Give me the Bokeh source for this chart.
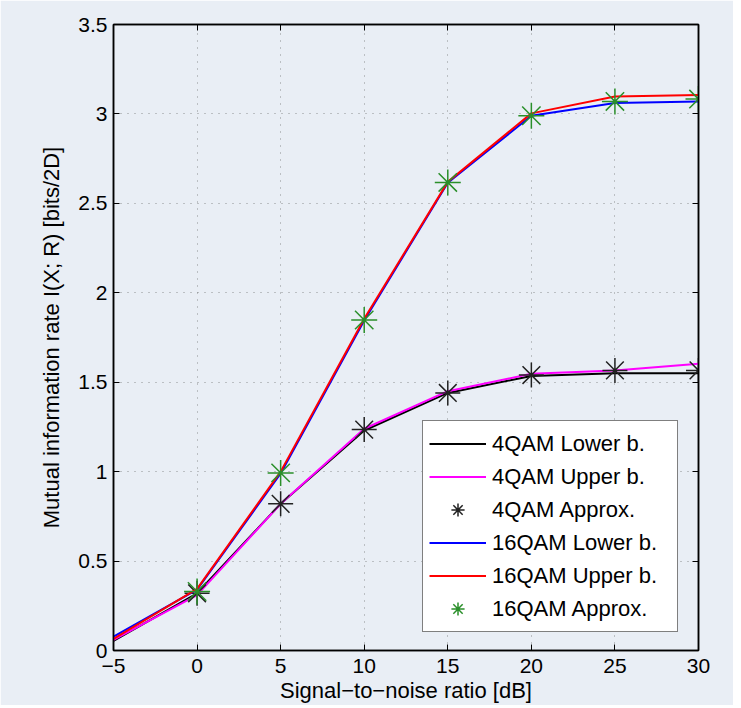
from bokeh.plotting import figure
from bokeh.models import Range1d, FixedTicker, LinearAxis, Legend, LegendItem
from bokeh.embed import file_html
from bokeh.resources import INLINE

# ---- data ----
snr = [-5, 0, 5, 10, 15, 20, 25, 30]
snr_approx = [0, 5, 10, 15, 20, 25, 30]
qam4_lower = [0.054, 0.32, 0.82, 1.23, 1.44, 1.535, 1.55, 1.55]
qam4_upper = [0.06, 0.31, 0.82, 1.24, 1.45, 1.547, 1.566, 1.603]
qam4_approx = [0.32, 0.82, 1.235, 1.44, 1.54, 1.566, 1.566]
qam16_lower = [0.078, 0.34, 0.99, 1.845, 2.615, 2.99, 3.061, 3.07]
qam16_upper = [0.065, 0.345, 1.0, 1.855, 2.62, 3.003, 3.097, 3.106]
qam16_approx = [0.33, 0.993, 1.848, 2.617, 2.99, 3.07, 3.083]

x_ticks = [-5, 0, 5, 10, 15, 20, 25, 30]
x_tick_labels = ["\u22125", "0", "5", "10", "15", "20", "25", "30"]
y_ticks = [0, 0.5, 1, 1.5, 2, 2.5, 3, 3.5]
y_tick_labels = ["0", "0.5", "1", "1.5", "2", "2.5", "3", "3.5"]

series_names = ["4QAM Lower b.", "4QAM Upper b.", "4QAM Approx.",
                "16QAM Lower b.", "16QAM Upper b.", "16QAM Approx."]

BG = "#E9EEF5"
FONT = "Liberation Sans"

p = figure(width=733, height=705,
           x_range=Range1d(-5, 30), y_range=Range1d(0, 3.5),
           output_backend="svg", toolbar_location=None,
           min_border_left=113, min_border_right=35,
           min_border_top=24, min_border_bottom=51,
           background_fill_color=BG, border_fill_color=BG)

p.xaxis.ticker = FixedTicker(ticks=x_ticks)
p.yaxis.ticker = FixedTicker(ticks=y_ticks)
p.xaxis.major_label_overrides = dict(zip(x_ticks, x_tick_labels))
p.yaxis.major_label_overrides = dict(zip(y_ticks, y_tick_labels))
p.xaxis.axis_label = "Signal\u2212to\u2212noise ratio [dB]"
p.yaxis.axis_label = "Mutual information rate I(X; R) [bits/2D]"

for ax in p.xaxis + p.yaxis:
    ax.axis_line_width = 1.5
    ax.axis_line_color = "black"
    ax.major_tick_in = 6
    ax.major_tick_out = 0
    ax.major_tick_line_color = "black"
    ax.minor_tick_line_color = None
    ax.major_label_text_font = FONT
    ax.major_label_text_font_size = "21px"
    ax.major_label_text_color = "black"
    ax.axis_label_text_font = FONT
    ax.axis_label_text_font_size = "22px"
    ax.axis_label_text_font_style = "normal"
    ax.axis_label_text_color = "black"

p.xaxis.major_label_standoff = 8
p.xaxis.axis_label_standoff = 2
p.yaxis.major_label_standoff = 6
p.yaxis.axis_label_standoff = 11

# box axes (inward ticks only, empty labels)
for loc, tk in (("right", y_ticks), ("above", x_ticks)):
    ax = LinearAxis(ticker=FixedTicker(ticks=tk),
                    major_label_overrides={t: "" for t in tk},
                    major_label_standoff=0,
                    major_tick_in=6, major_tick_out=0,
                    minor_tick_line_color=None,
                    axis_line_width=1.5, axis_line_color="black",
                    major_tick_line_color="black")
    p.add_layout(ax, loc)

p.outline_line_color = "black"
p.outline_line_width = 1.5

for g in (p.xgrid, p.ygrid):
    g.grid_line_color = "#666666"
    g.grid_line_alpha = 0.7
    g.grid_line_dash = "1 6"
    g.grid_line_width = 1

r1 = p.line(snr, qam4_lower, line_color="black", line_width=2)
r2 = p.line(snr, qam4_upper, line_color="#FF00FF", line_width=2)
r3 = p.scatter(snr_approx, qam4_approx, marker="asterisk", size=25,
               line_color="#222222", line_width=1.5)
r4 = p.line(snr, qam16_lower, line_color="#0000FF", line_width=2)
r5 = p.line(snr, qam16_upper, line_color="#FF0000", line_width=2)
r6 = p.scatter(snr_approx, qam16_approx, marker="asterisk", size=26,
               line_color="#2A8F2A", line_width=1.5)

renderers = [r1, r2, r3, r4, r5, r6]
legend = Legend(items=[LegendItem(label=n, renderers=[r]) for n, r in zip(series_names, renderers)],
                location=(309, 18),
                border_line_color="black", border_line_width=1.5,
                background_fill_color="white", background_fill_alpha=1,
                label_text_font=FONT, label_text_font_size="22px",
                label_text_color="black",
                glyph_width=57, glyph_height=33, label_height=33,
                label_standoff=6, label_width=179,
                padding=6, spacing=0, margin=0)
p.add_layout(legend)

html = file_html(p, INLINE)
html = html.replace("<body>", '<body style="background-color:#E9EEF5;">', 1)
open("out.html", "w").write(html)
